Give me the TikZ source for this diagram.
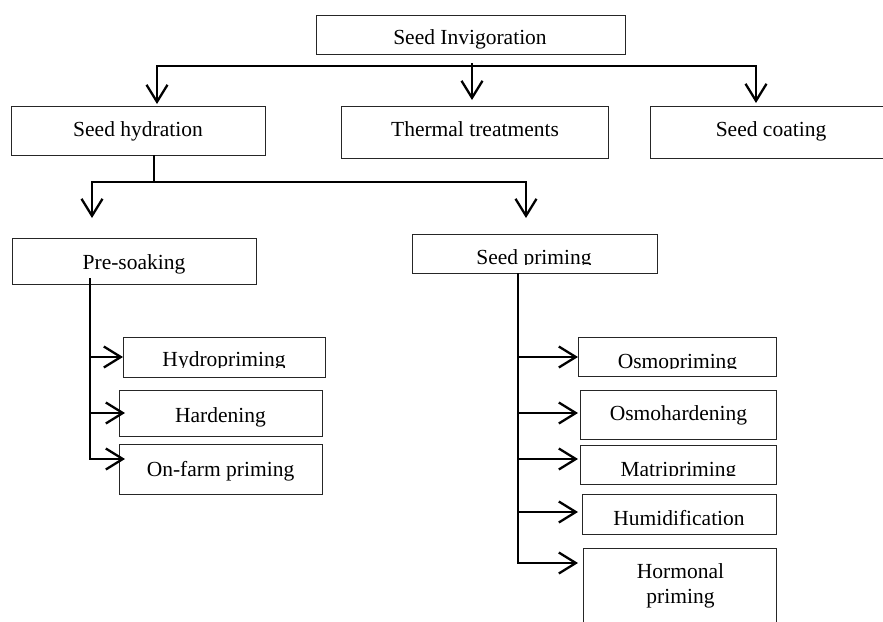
\documentclass[tikz,border=0pt]{standalone}
\usepackage{fontspec}
\setmainfont{Liberation Serif}
\usetikzlibrary{arrows.meta}
\newcommand\mybox[5]{\node[box, minimum width={(#4)-(#2)}, minimum height={(#5)-(#3)}] (#1) at (#2,#3) {};}
\begin{document}
\begin{tikzpicture}[x=1pt,y=-1pt,
  box/.style={draw=black!85, line width=1pt, rectangle, inner sep=0pt, outer sep=0pt, anchor=north west},
  lbl/.style={anchor=base, inner sep=0pt, font=\fontsize{21.5}{25}\selectfont},
  conn/.style={line width=2.3pt},
  tip/.style={-{Straight Barb[length=17pt,width=21pt,line width=2.3pt]}},
  tips/.style={{Straight Barb[length=17pt,width=21pt,line width=2.3pt]}-{Straight Barb[length=17pt,width=21pt,line width=2.3pt]}},
]
\path[use as bounding box] (0,0) rectangle (883,621);
\clip (0,0) rectangle (883,621);

% boxes
\mybox{inv}{316}{15}{625}{54}
\mybox{hyd}{11}{106}{265}{155}
\mybox{thermal}{341}{106}{608}{158}
\mybox{coat}{650}{106}{900}{158}
\mybox{presoak}{12}{238}{256}{284}
\mybox{priming}{412}{234}{657}{273}
\mybox{hydro}{123}{337}{325}{377}
\mybox{hard}{119}{390}{322}{436}
\mybox{onfarm}{119}{444}{322}{494}
\mybox{osmo}{578}{337}{776}{376}
\mybox{osmohard}{580}{390}{776}{439}
\mybox{matri}{580}{445}{776}{484}
\mybox{humid}{582}{494}{776}{534}
\mybox{hormonal}{583}{548}{776}{650}

% texts
\node[lbl] (inv-t) at (470,44) {Seed Invigoration};
\node[lbl] (hyd-t) at (138,136) {Seed hydration};
\node[lbl] (thermal-t) at (475,136) {Thermal treatments};
\node[lbl] (coat-t) at (771,136) {Seed coating};
\node[lbl] (presoak-t) at (134,269) {Pre-soaking};
\begin{scope}
  \clip (priming.north west) rectangle ([yshift=9pt]priming.south east);
  \node[lbl] (priming-t) at (534,264) {Seed priming};
\end{scope}
\begin{scope}
  \clip (hydro.north west) rectangle ([yshift=10pt]hydro.south east);
  \node[lbl] (hydro-t) at (224,366) {Hydropriming};
\end{scope}
\node[lbl] (hard-t) at (220.5,422) {Hardening};
\node[lbl] (onfarm-t) at (220.5,476) {On-farm priming};
\begin{scope}
  \clip (osmo.north west) rectangle ([yshift=8pt]osmo.south east);
  \node[lbl] (osmo-t) at (677.5,368) {Osmopriming};
\end{scope}
\node[lbl] (osmohard-t) at (678.5,420) {Osmohardening};
\begin{scope}
  \clip (matri.north west) rectangle ([yshift=9pt]matri.south east);
  \node[lbl] (matri-t) at (678.5,476) {Matripriming};
\end{scope}
\begin{scope}
  \clip (humid.north west) rectangle ([yshift=10pt]humid.south east);
  \node[lbl] (humid-t) at (679,525) {Humidification};
\end{scope}
\node[lbl, anchor=north, align=center] (hormonal-t) at (680.5,563.7) {Hormonal\\priming};

% level 1 connectors
\coordinate (invdrop) at (472,63);
\coordinate (l1a) at (157,104);
\coordinate (l1b) at (756,103);
\draw[conn,tips] (l1a) |- (invdrop |- 0,66) -| (l1b);
\draw[conn,tip] (invdrop) -- (invdrop |- 0,100);

% level 2 connectors
\coordinate (hyddrop) at (154,155);
\coordinate (l2a) at (92,218);
\coordinate (l2b) at (526,218);
\draw[conn] (hyddrop) -- (154,182);
\draw[conn,tips] (l2a) |- (hyddrop |- 0,182) -| (l2b);

% pre-soaking branches
\coordinate (ps0) at (90,278);
\draw[conn,tip] (ps0) |- (125,459);
\draw[conn,tip] (90,357) -- (hydro.west |- 0,357);
\draw[conn,tip] (90,413) -- (125,413);

% seed priming branches
\coordinate (sp0) at (518,273);
\draw[conn,tip] (sp0) |- (578,563);
\draw[conn,tip] (518,357) -- (578,357);
\draw[conn,tip] (518,413) -- (578,413);
\draw[conn,tip] (518,459) -- (578,459);
\draw[conn,tip] (518,512) -- (578,512);
\end{tikzpicture}
\end{document}
